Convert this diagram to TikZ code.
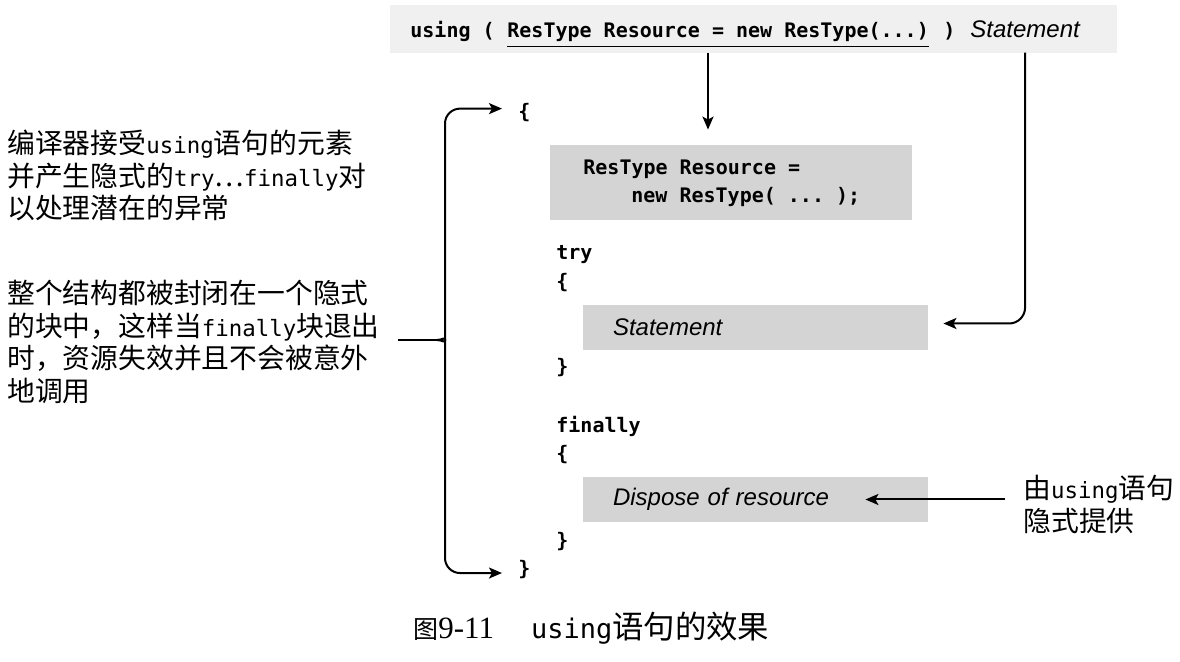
\documentclass[tikz,border=0pt]{standalone}
\usepackage{fontspec}
\setmonofont{DejaVu Sans Mono}
\newfontfamily\cjk{Noto Sans CJK SC}
\newfontfamily\stmtfont{Liberation Sans}
\newfontfamily\capnum{Liberation Serif}
\usetikzlibrary{arrows.meta, positioning}
\newcommand{\kw}[1]{{\fontsize{11.2pt}{16.25pt}\ttfamily #1}}

\begin{document}
\begin{tikzpicture}[x=0.5pt, y=-0.5pt,
		code/.style={font=\fontsize{10pt}{14pt}\ttfamily\bfseries, inner sep=0pt, anchor=base west},
		codebox/.style={fill=black!17, inner ysep=0pt, align=left},
		note/.style={font=\fontsize{13.9pt}{16.25pt}\cjk, inner sep=0pt, align=left, anchor=north west},
		stmt/.style={font=\fontsize{12pt}{14pt}\stmtfont\itshape},
		arr/.style={-{Stealth[length=6.5pt, width=5.5pt, inset=1.5pt]}, line width=1pt}]
			\useasboundingbox (0,0) rectangle (1180,662);
			\fill[black!6] (390,5) rectangle (1117,53);

			% the using statement
			\node[code] (usekw) at (410,38) {using (};
			\node[code, inner ysep=2pt] (decl) at (507,38) {ResType Resource = new ResType(...)};
			\node[code] (rparen) at (943,38) {)};
			\node[code, stmt] (stmtword) at (970,38) {Statement};
			\draw[line width=0.9pt] (decl.south west) -- (decl.south east);

			% the expanded code
			\node[code] (openbrace) at (518,118.6) {\{};
			\node[codebox, minimum width=181pt, minimum height=37.5pt] (initbox) at (731,182.5) {};
			\node[code] (initline) at (583,175) {ResType Resource =};
			\node[code] (newline) at (631,203) {new ResType( ... );};
			\node[code] (trykw) at (556,260) {try};
			\node[code] (tryopen) at (556,289) {\{};
			\node[codebox, stmt, text width=142.5pt, inner xsep=15pt, minimum height=22.5pt]
				(stmtbody) at (755.5,327.5) {Statement};
			\node[code] (tryclose) at (556,374) {\}};
			\node[code] (finkw) at (556,433) {finally};
			\node[code] (finopen) at (556,461) {\{};
			\node[codebox, stmt, text width=142.5pt, inner xsep=15pt, minimum height=22.5pt]
				(disposebox) at (755.5,499.5) {Dispose of resource};
			\node[code] (finclose) at (556,548) {\}};
			\node[code] (closebrace) at (518,576) {\}};

			% notes
			\node[note] (compnote) at (7,130) {编译器接受\kw{using}语句的元素\\并产生隐式的\kw{try}…\kw{finally}对\\以处理潜在的异常};
			\node[note] (scopenote) at (7,280) {整个结构都被封闭在一个隐式\\的块中，这样当\kw{finally}块退出\\时，资源失效并且不会被意外\\地调用};
			\node[note] (implicit) at (1023,475) {由\kw{using}语句\\隐式提供};
			\node[inner sep=0pt, anchor=base west] (caption) at (413,639)
				{{\fontsize{12.5pt}{16pt}\cjk 图}{\fontsize{15.5pt}{16pt}\capnum 9-11}\hspace{18.5pt}{\fontsize{13.5pt}{16pt}\ttfamily using}{\fontsize{15.7pt}{16pt}\cjk 语句的效果}};

			% arrows
			\coordinate (declx) at (708,0);
			\draw[arr, shorten <=3pt, shorten >=7.5pt] (decl.south -| declx) -- (initbox.north -| declx);
			\draw[arr, rounded corners=8pt, shorten <=7pt] (stmtword.south) |- ([xshift=7.5pt, yshift=2pt]stmtbody.east);
			\draw[arr, shorten <=9pt] (implicit.west |- disposebox.east) -- ([xshift=-31.5pt]disposebox.east);

			% the brace round the block
			\coordinate (bracetip) at (398,340);
			\coordinate (cusp) at (437,340);
			\draw[line width=1pt] (bracetip) -- (cusp);
			\draw[arr, rounded corners=7.5pt, shorten >=8pt] (cusp) .. controls (443,340) and (445,336) .. (445,326) |- ([yshift=2pt]openbrace.west);
			\draw[arr, rounded corners=7.5pt, shorten >=8pt] (cusp) .. controls (443,340) and (445,344) .. (445,354) |- ([yshift=-1.5pt]closebrace.west);
		\end{tikzpicture}
\end{document}
